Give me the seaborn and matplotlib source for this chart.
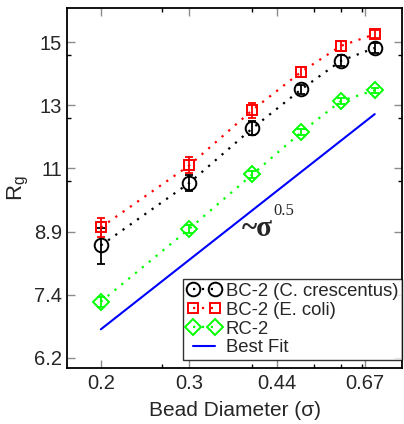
import numpy as np
import matplotlib
matplotlib.use('Agg')
import matplotlib.pyplot as plt
import seaborn as sns
from matplotlib.ticker import FixedLocator, NullFormatter

# bead diameters (sigma)
bead_d = [0.2, 0.3, 0.4, 0.5, 0.6, 0.7]

# radius of gyration
rg_caulo = [8.49, 10.12, 11.79, 13.15, 14.25, 14.77]
err_caulo = [0.42, 0.23, 0.23, 0.18, 0.22, 0.2]
rg_ecoli = [8.93, 10.63, 12.41, 13.81, 14.86, 15.35]
err_ecoli = [0.23, 0.24, 0.26, 0.19, 0.2, 0.17]
rg_rc2 = [7.25, 8.90, 10.36, 11.66, 12.73, 13.12]
err_rc2 = [0.1, 0.1, 0.1, 0.1, 0.1, 0.1]

fit_x = [0.2, 0.7]
fit_y = [6.71, 12.27]

x_tick_labels = ['0.2', '0.3', '0.44', '0.67']
y_tick_labels = ['6.2', '7.4', '8.9', '11', '13', '15']

sns.set_style('ticks')
plt.rcParams['font.family'] = ['Liberation Sans', 'DejaVu Sans']
plt.rcParams['mathtext.fontset'] = 'custom'
plt.rcParams['mathtext.rm'] = 'Liberation Sans'
plt.rcParams['mathtext.it'] = 'Liberation Sans'

fig = plt.figure(figsize=(4.04, 4.24), dpi=100)
ax = fig.add_axes([0.167, 0.132, 0.828, 0.848])

series = [
    (rg_caulo, err_caulo, 'black', 'o', 9.8, 'BC-2 (C. crescentus)'),
    (rg_ecoli, err_ecoli, '#ff0000', 's', 7.5, 'BC-2 (E. coli)'),
    (rg_rc2, err_rc2, '#00ff00', 'D', 8, 'RC-2'),
]

for rg, err, col, mk, ms, lab in series:
    ax.errorbar(bead_d, rg, yerr=err, fmt='none', ecolor=col,
                elinewidth=1.3, capsize=3, capthick=1.3)
    sns.lineplot(x=bead_d, y=rg, ax=ax, color=col, marker=mk, markersize=ms,
                 markerfacecolor='none', markeredgecolor=col,
                 markeredgewidth=1.4, linestyle=(0, (1, 3)), linewidth=1.6,
                 label=lab)

sns.lineplot(x=fit_x, y=fit_y, ax=ax, color='#0000ff', linewidth=1.5,
             label='Best Fit')

ax.set_xscale('log')
ax.set_yscale('log')
ax.set_xlim(0.1717, 0.793)
ax.set_ylim(6.02, 16.5)

ax.xaxis.set_major_locator(FixedLocator(np.geomspace(0.2, 0.67, 4)))
ax.set_xticklabels(x_tick_labels)
ax.xaxis.set_minor_locator(FixedLocator([0.265, 0.40, 0.53, 0.60, 0.66]))
ax.xaxis.set_minor_formatter(NullFormatter())
ax.yaxis.set_major_locator(FixedLocator(np.geomspace(6.2, 15, 6)))
ax.set_yticklabels(y_tick_labels)
ax.yaxis.set_minor_locator(FixedLocator([10.17, 12.14, 14.48]))
ax.yaxis.set_minor_formatter(NullFormatter())

ax.tick_params(which='major', direction='in', top=True, right=True,
               length=6, width=1.0, color='0.55', labelsize=14.5, pad=4)
ax.tick_params(which='minor', direction='in', top=True, right=True,
               length=3, width=1.0, color='black')
for sp in ax.spines.values():
    sp.set_linewidth(1.3)
    sp.set_color('black')

ax.set_xlabel('Bead Diameter (\u03c3)', fontsize=15, labelpad=6)
ax.set_ylabel(r'R$_\mathregular{g}$', fontsize=16, labelpad=2)

ax.text(0.381, 8.9, '~\u03c3', fontsize=21, fontweight='bold',
        family='Liberation Serif', ha='left', va='center')
ax.text(0.44, 9.35, '0.5', fontsize=12, family='Liberation Serif',
        ha='left', va='center')

leg = ax.legend(loc='lower right', bbox_to_anchor=(1.0, 0.022),
                borderaxespad=0, numpoints=2, fontsize=13.3, frameon=True,
                fancybox=False, handlelength=1.8, handletextpad=0.3,
                borderpad=0.2, labelspacing=0.1)
leg.get_frame().set_edgecolor('black')
leg.get_frame().set_linewidth(1.0)

fig.savefig('out.png', dpi=100)
